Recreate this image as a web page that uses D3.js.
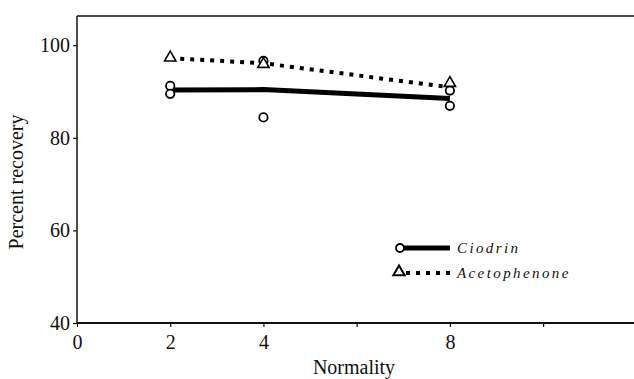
<!DOCTYPE html>
<html>
  <head>
  <script src="https://cdnjs.cloudflare.com/ajax/libs/d3/7.8.5/d3.min.js" charset="utf-8"></script>
  <style>
    body { margin: 0; background: #fff; }
    text { font-family: "Liberation Serif", "Times New Roman", serif; fill: #111; }
  </style>
  </head>
  <body>
    <div id="chart"></div>
	<script type="text/javascript">

		// normality values and measured recoveries (percent)
		var normality = [2, 4, 8];
		var ciodrinPoints = [[2, 91.2], [2, 89.5], [4, 96.6], [4, 84.4], [8, 90.2], [8, 86.9]];
		var ciodrinLine = [90.3, 90.4, 88.5];
		var acetoPoints = [[2, 97.3], [4, 95.9], [8, 91.8]];
		var acetoLine = [97.2, 96.1, 90.9];
		var xTicks = [0, 2, 4, 6, 8, 10];
		var xLabels = [0, 2, 4, 8];
		var yTicks = [40, 60, 80, 100];
		var seriesNames = ["Ciodrin", "Acetophenone"];

		var W = 634, H = 379;
		var svg = d3.select("#chart").append("svg")
			.attr("width", W).attr("height", H);

		var x = d3.scaleLinear().domain([0, 11.95]).range([77, 634]);
		var y = d3.scaleLinear().domain([40, 106.3]).range([323, 16]);

		// frame: top line, left axis, bottom axis
		svg.append("line")
			.attr("x1", x(0)).attr("x2", W).attr("y1", y(106.3)).attr("y2", y(106.3))
			.attr("stroke", "#111").attr("stroke-width", 1.6);

		var yAxis = svg.append("g")
			.attr("transform", "translate(" + x(0) + ",0)")
			.call(d3.axisLeft(y).tickValues(yTicks).tickSize(4).tickPadding(3));
		yAxis.select(".domain").attr("d", "M0," + y(106.3) + "V" + y(40))
			.attr("stroke", "#111").attr("stroke-width", 1.5);
		yAxis.selectAll(".tick line").attr("stroke", "#111").attr("stroke-width", 1.2);
		yAxis.selectAll(".tick text").style("font-size", "20px")
			.style("font-family", "Liberation Serif").attr("fill", "#111");

		var xAxis = svg.append("g")
			.attr("transform", "translate(0," + y(40) + ")")
			.call(d3.axisBottom(x).tickValues(xTicks).tickSize(4).tickPadding(8)
				.tickFormat(function(d){ return xLabels.indexOf(d) >= 0 ? d : ""; }));
		xAxis.select(".domain").attr("d", "M" + x(0) + ",0H" + W)
			.attr("stroke", "#111").attr("stroke-width", 1.8);
		xAxis.selectAll(".tick line").attr("stroke", "#111").attr("stroke-width", 1.2);
		xAxis.selectAll(".tick text").style("font-size", "20px")
			.style("font-family", "Liberation Serif").attr("fill", "#111");

		// axis titles
		svg.append("text")
			.attr("x", 354).attr("y", 374)
			.attr("text-anchor", "middle")
			.style("font-size", "20px")
			.text("Normality");

		svg.append("text")
			.attr("transform", "translate(23,182) rotate(-90)")
			.attr("text-anchor", "middle")
			.style("font-size", "20px")
			.text("Percent recovery");

		// lines through mean values
		var line = d3.line()
			.x(function(d, i){ return x(normality[i]); })
			.y(function(d){ return y(d); });

		svg.append("path").datum(ciodrinLine)
			.attr("d", line)
			.attr("fill", "none").attr("stroke", "#000").attr("stroke-width", 5);

		svg.append("path").datum(acetoLine)
			.attr("d", line)
			.attr("fill", "none").attr("stroke", "#000").attr("stroke-width", 4)
			.attr("stroke-dasharray", "4,6");

		// markers
		var tri = d3.symbol().type(d3.symbolTriangle).size(55);

		svg.selectAll(".cio")
			.data(ciodrinPoints)
			.enter()
			.append("circle")
			.attr("class", "cio")
			.attr("cx", function(d){ return x(d[0]); })
			.attr("cy", function(d){ return y(d[1]); })
			.attr("r", 4.2)
			.attr("fill", "#fff").attr("stroke", "#000").attr("stroke-width", 1.8);

		svg.selectAll(".ace")
			.data(acetoPoints)
			.enter()
			.append("path")
			.attr("class", "ace")
			.attr("transform", function(d){ return "translate(" + x(d[0]) + "," + y(d[1]) + ")"; })
			.attr("d", tri)
			.attr("fill", "#fff").attr("stroke", "#000").attr("stroke-width", 1.6);

		// legend
		var lg = svg.append("g");
		lg.append("line")
			.attr("x1", 400).attr("x2", 450).attr("y1", 248).attr("y2", 248)
			.attr("stroke", "#000").attr("stroke-width", 5);
		lg.append("circle")
			.attr("cx", 400).attr("cy", 248).attr("r", 4)
			.attr("fill", "#fff").attr("stroke", "#000").attr("stroke-width", 1.8);
		lg.append("line")
			.attr("x1", 406).attr("x2", 450).attr("y1", 273).attr("y2", 273)
			.attr("stroke", "#000").attr("stroke-width", 4)
			.attr("stroke-dasharray", "4,6");
		lg.append("path")
			.attr("transform", "translate(399,272)")
			.attr("d", tri)
			.attr("fill", "#fff").attr("stroke", "#000").attr("stroke-width", 2);

		lg.selectAll("text")
			.data(seriesNames)
			.enter()
			.append("text")
			.attr("x", 457)
			.attr("y", function(d, i){ return 253 + i * 25; })
			.style("font-size", "15px")
			.style("font-style", "italic")
			.style("letter-spacing", "2.4px")
			.text(function(d){ return d; });

	</script>
  </body>
</html>
